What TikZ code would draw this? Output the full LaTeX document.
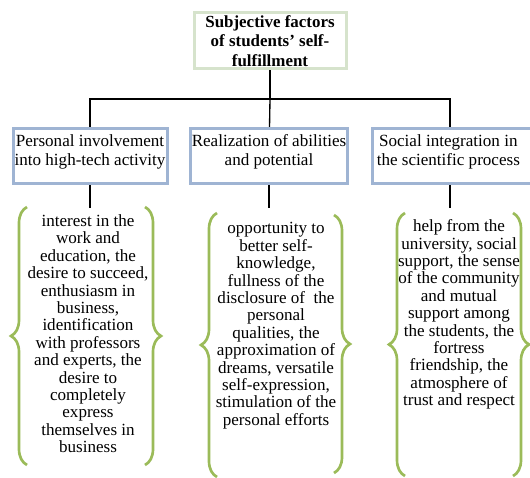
\documentclass[tikz,border=0pt]{standalone}
\usepackage{fontspec}
\setmainfont{Liberation Serif}
\usetikzlibrary{positioning,decorations.pathreplacing}
\definecolor{topgreen}{HTML}{D6E3CC}
\definecolor{catblue}{HTML}{9FB4D3}
\definecolor{bracegreen}{HTML}{9BBB59}
\begin{document}
\begin{tikzpicture}[x=0.75pt, y=-0.75pt, line width=1pt,
  top node/.style={rectangle, draw=topgreen, line width=2.25pt, minimum width=114pt, minimum height=42pt, inner sep=1pt, align=center, font=\fontsize{12.7}{14.6}\selectfont\bfseries},
  cat node/.style={rectangle, draw=catblue, line width=2.25pt, minimum width=115.5pt, minimum height=41.25pt, inner xsep=1pt, inner ysep=4.6pt, align=center, font=\fontsize{12.8}{14.25}\selectfont},
  item text/.style={align=center, inner sep=0pt, anchor=north, font=\fontsize{12.8}{13.05}\selectfont},
  brace line/.style={decorate, decoration={brace, amplitude=12pt}, draw=bracegreen, line width=2pt}]
\useasboundingbox (0,0) rectangle (530,477);
\clip (0,0) rectangle (530,477);
\fill[white] (0,0) rectangle (530,477);
\node[top node] (top) at (270,41) {Subjective factors\\of students’ self-\\fulfillment};
\begin{scope}[every node/.style={cat node}]
\node (c1) at (90,156) {Personal involvement\\into high-tech activity\\[-5.3pt]\mbox{}};
\node (c2) at (269,156) {Realization of abilities\\and potential\\[-5.3pt]\mbox{}};
\node[minimum width=120.75pt] (c3) at (453,156) {\hspace*{-7pt}Social integration in\\\hspace*{-7pt}the scientific process\\[-5.3pt]\mbox{}};
\end{scope}
\node[item text] (t1) at (88,214) {interest in the\\work and\\education, the\\desire to succeed,\\enthusiasm in\\business,\\identification\\with professors\\and experts, the\\desire to\\completely\\express\\themselves in\\business};
\node[item text] (t2) at (276,222) {opportunity to\\better self-\\knowledge,\\fullness of the\\disclosure of~~the\\personal\\qualities, the\\approximation of\\dreams, versatile\\self-expression,\\stimulation of the\\personal efforts};
\node[item text] (t3) at (459,219) {help from the\\university, social\\support, the sense\\of the community\\and mutual\\support among\\the students, the\\fortress\\friendship, the\\atmosphere of\\trust and respect};
\coordinate (hub) at (270,99);
\coordinate (e1) at (90,208);
\coordinate (e2) at (269,208);
\coordinate (e3) at (450,208);
\draw (top) -- (hub);
\draw (hub) -| (c1);
\draw (hub) -- (c2);
\draw (hub) -| (c3.north -| e3);
\draw (c1) -- (e1);
\draw (c2) -- (e2);
\draw (c3.south -| e3) -- (e3);
\begin{scope}[every path/.style={brace line}]
\draw (27,465) -- (27,207);
\draw (145,207) -- (145,465);
\draw (217,477) -- (217,213);
\draw (334,215) -- (334,473);
\draw (405,476) -- (405,213);
\draw (513,213) -- (513,476);
\end{scope}
\end{tikzpicture}
\end{document}
